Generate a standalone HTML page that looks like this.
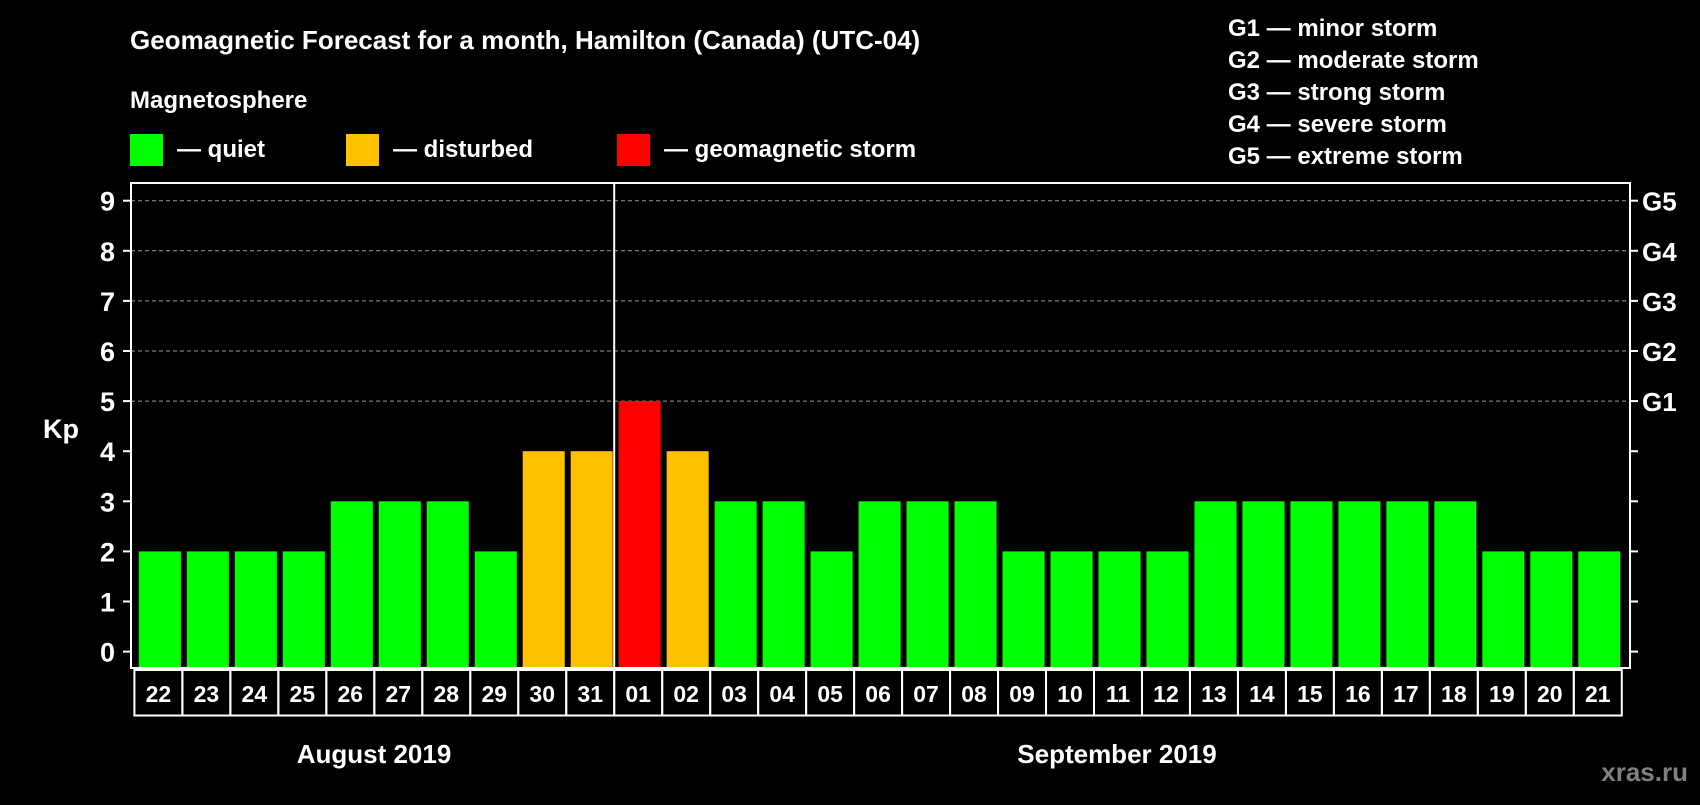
<!DOCTYPE html>
<html><head><meta charset="utf-8"><style>
body{margin:0;background:#000;width:1700px;height:800px;overflow:hidden}
svg text{font-family:"Liberation Sans",Arial,sans-serif;font-weight:bold;fill:#fff}
</style></head><body>
<svg width="1700" height="800" viewBox="0 0 1700 800">
<g id="chart"></g>
</svg>
<script>
const days=["22","23","24","25","26","27","28","29","30","31","01","02","03","04","05","06","07","08","09","10","11","12","13","14","15","16","17","18","19","20","21"];
const kpValues=[2,2,2,2,3,3,3,2,4,4,5,4,3,3,2,3,3,3,2,2,2,2,3,3,3,3,3,3,2,2,2];
const yTicks=[0,1,2,3,4,5,6,7,8,9];
const gLabels=["G1","G2","G3","G4","G5"];
const gDescs=["minor storm","moderate storm","strong storm","severe storm","extreme storm"];
const NS="http://www.w3.org/2000/svg";
const g=document.getElementById('chart');
function mk(t,a,txt){const e=document.createElementNS(NS,t);for(const k in a)e.setAttribute(k,a[k]);if(txt!==undefined)e.textContent=txt;g.appendChild(e);return e;}
const plotL=131,plotR=1630,plotT=183,plotB=668,slot0=134.4,pitch=47.98;
const y=v=>651.6-v*50.1;
const x=i=>slot0+i*pitch;
const col=v=>v>=5?"#ff0000":(v>=4?"#ffc000":"#00ff00");
let e;
e=mk('text',{x:130,y:49,'font-size':26},"Geomagnetic Forecast for a month, Hamilton (Canada) (UTC-04)");


e=mk('text',{x:130,y:108,'font-size':24},"Magnetosphere");


const leg=[[130,"#00ff00","— quiet"],[346,"#ffc000","— disturbed"],[617,"#ff0000","— geomagnetic storm"]];
leg.forEach(l=>{
 e=mk('rect',{x:l[0],y:134,width:33,height:32,fill:l[1]});
 
 
 e=mk('text',{x:l[0]+47,y:157,'font-size':24},l[2]);
 
 
});
gLabels.forEach((gl,i)=>{
 e=mk('text',{x:1228,y:36+i*32,'font-size':24},gl+" — "+gDescs[i]);
 
 
});
// grid
for(let v=5;v<=9;v++){
 e=mk('line',{x1:plotL,x2:plotR,y1:y(v),y2:y(v),stroke:"#999","stroke-width":1,"stroke-dasharray":"4,3"});
 
 
}
// bars
kpValues.forEach((v,i)=>{
 e=mk('rect',{x:x(i)+4.5,y:y(v),width:42,height:plotB-y(v),fill:col(v)});
 
 
});
// frame
e=mk('rect',{x:plotL,y:plotT,width:plotR-plotL,height:plotB-plotT,fill:"none",stroke:"#fff","stroke-width":2});


e=mk('line',{x1:x(10),x2:x(10),y1:plotT,y2:plotB,stroke:"#fff","stroke-width":2});


yTicks.forEach(v=>{
 mk('line',{x1:plotL-8,x2:plotL,y1:y(v),y2:y(v),stroke:"#fff","stroke-width":2});
 mk('line',{x1:plotR,x2:plotR+8,y1:y(v),y2:y(v),stroke:"#fff","stroke-width":2});
 e=mk('text',{x:115,y:y(v)+10,'font-size':27,'text-anchor':'end'},String(v));
 
 
});
gLabels.forEach((gl,i)=>{
 e=mk('text',{x:1642,y:y(5+i)+10,'font-size':26},gl);
 
 
});
e=mk('text',{x:43,y:438,'font-size':27},"Kp");


// day labels
days.forEach((d,i)=>{
 e=mk('rect',{x:x(i),y:670,width:pitch,height:45.5,fill:"none",stroke:"#fff","stroke-width":2});
 
 
 e=mk('text',{x:x(i)+pitch/2,y:702,'font-size':23,'text-anchor':'middle'},d);
 
 
});
e=mk('text',{x:374,y:763,'font-size':26,'text-anchor':'middle'},"August 2019");


e=mk('text',{x:1117,y:763,'font-size':26,'text-anchor':'middle'},"September 2019");


e=mk('text',{x:1688,y:781,'font-size':26,'text-anchor':'end',fill:'#808080',style:'fill:#808080'},"xras.ru");


</script>
</body></html>
